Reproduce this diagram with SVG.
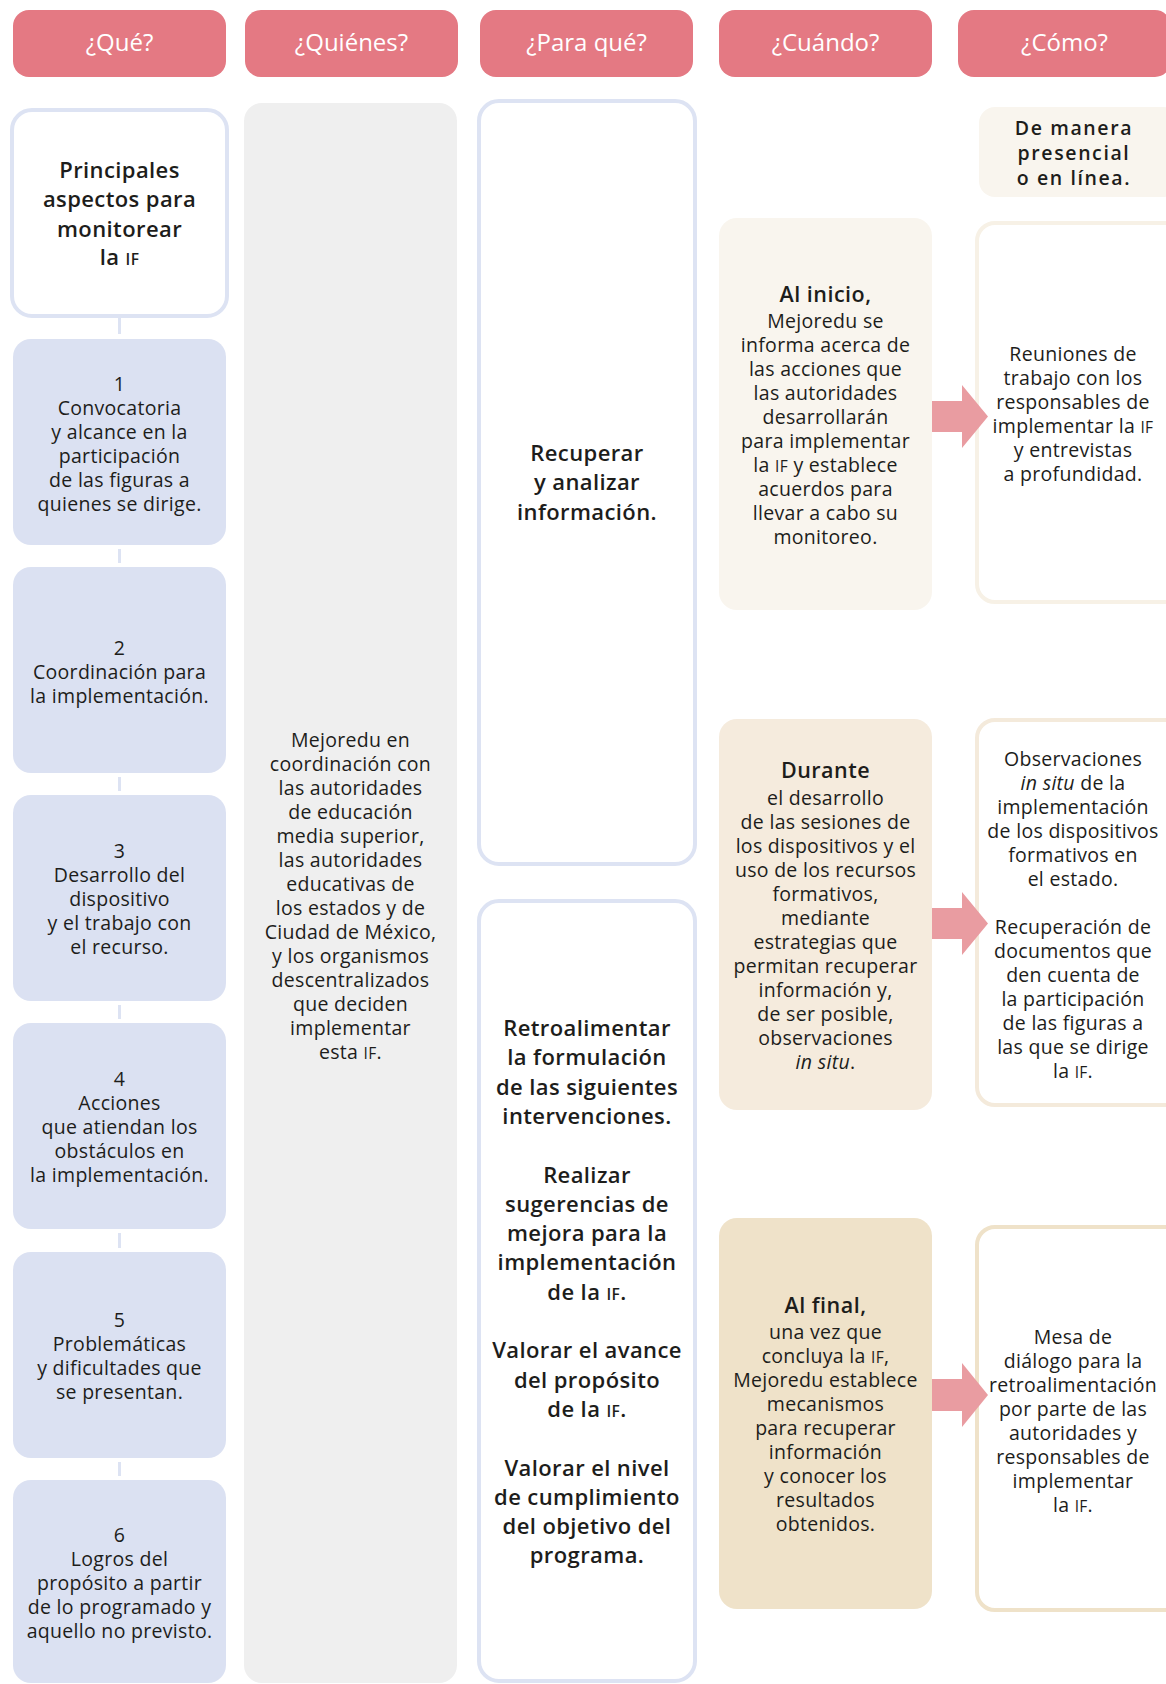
<svg xmlns="http://www.w3.org/2000/svg" width="1166" height="1684" viewBox="0 0 1166 1684">
<style>
.t{font-family:"Open Sans","Liberation Sans",sans-serif;font-size:19.5px;font-weight:500;fill:#1d1d1b;text-anchor:middle;letter-spacing:0.3px}
.b{font-weight:600;font-size:22px;letter-spacing:0.4px}
.b2{font-weight:600;font-size:21.5px;letter-spacing:0.5px}
.b3{font-weight:600;font-size:19.5px;letter-spacing:1.6px}
.h{font-family:"Open Sans","Liberation Sans",sans-serif;font-size:24px;font-weight:500;fill:#ffffff;text-anchor:middle}
.sc{font-size:15.5px}
.it{font-style:italic}
.hdr{fill:#e47983}
.blue{fill:#dbe1f2}
.ob{fill:#ffffff;stroke:#dde3f3;stroke-width:4}
.gray{fill:#efefef}
.c1{fill:#f9f5ee}
.c2{fill:#f5ebdd}
.c3{fill:#efe2c9}
.oc1{fill:#ffffff;stroke:#f7f1e6;stroke-width:4}
.oc2{fill:#ffffff;stroke:#f4eadb;stroke-width:4}
.oc3{fill:#ffffff;stroke:#efe2c9;stroke-width:4}
.ln{stroke:#dde3f3;stroke-width:3}
.ar{fill:#e99ca1}
</style>
<rect width="1166" height="1684" fill="#ffffff"/>

<g id="headers">
<g id="h-que"><rect class="hdr" x="13" y="10" width="213" height="67" rx="16"/><text class="h" x="119.5" y="51">¿Qué?</text></g>
<g id="h-quienes"><rect class="hdr" x="245" y="10" width="213" height="67" rx="16"/><text class="h" x="351.5" y="51">¿Quiénes?</text></g>
<g id="h-paraque"><rect class="hdr" x="480" y="10" width="213" height="67" rx="16"/><text class="h" x="586.5" y="51">¿Para qué?</text></g>
<g id="h-cuando"><rect class="hdr" x="719" y="10" width="213" height="67" rx="16"/><text class="h" x="825.5" y="51">¿Cuándo?</text></g>
<g id="h-como"><rect class="hdr" x="958" y="10" width="213" height="67" rx="16"/><text class="h" x="1064.5" y="51">¿Cómo?</text></g>
</g>

<g id="n-principales">
<rect class="ob" x="12" y="110" width="215" height="206" rx="20"/>
<text class="t b" x="119.5"><tspan x="119.5" y="178">Principales</tspan><tspan x="119.5" y="207">aspectos para</tspan><tspan x="119.5" y="237">monitorear</tspan><tspan x="119.5" y="265">la <tspan class="sc">IF</tspan></tspan></text>
</g>

<g id="n-1">
<rect class="blue" x="13" y="339" width="213" height="206" rx="18"/>
<text class="t"><tspan x="119.5" y="391">1</tspan><tspan x="119.5" y="415">Convocatoria</tspan><tspan x="119.5" y="439">y alcance en la</tspan><tspan x="119.5" y="463">participación</tspan><tspan x="119.5" y="487">de las figuras a</tspan><tspan x="119.5" y="511">quienes se dirige.</tspan></text>
</g>
<g id="n-2">
<rect class="blue" x="13" y="567" width="213" height="206" rx="18"/>
<text class="t"><tspan x="119.5" y="655">2</tspan><tspan x="119.5" y="679">Coordinación para</tspan><tspan x="119.5" y="703">la implementación.</tspan></text>
</g>
<g id="n-3">
<rect class="blue" x="13" y="795" width="213" height="206" rx="18"/>
<text class="t"><tspan x="119.5" y="858">3</tspan><tspan x="119.5" y="882">Desarrollo del</tspan><tspan x="119.5" y="906">dispositivo</tspan><tspan x="119.5" y="930">y el trabajo con</tspan><tspan x="119.5" y="954">el recurso.</tspan></text>
</g>
<g id="n-4">
<rect class="blue" x="13" y="1023" width="213" height="206" rx="18"/>
<text class="t"><tspan x="119.5" y="1086">4</tspan><tspan x="119.5" y="1110">Acciones</tspan><tspan x="119.5" y="1134">que atiendan los</tspan><tspan x="119.5" y="1158">obstáculos en</tspan><tspan x="119.5" y="1182">la implementación.</tspan></text>
</g>
<g id="n-5">
<rect class="blue" x="13" y="1252" width="213" height="206" rx="18"/>
<text class="t"><tspan x="119.5" y="1327">5</tspan><tspan x="119.5" y="1351">Problemáticas</tspan><tspan x="119.5" y="1375">y dificultades que</tspan><tspan x="119.5" y="1399">se presentan.</tspan></text>
</g>
<g id="n-6">
<rect class="blue" x="13" y="1480" width="213" height="203" rx="18"/>
<text class="t"><tspan x="119.5" y="1542">6</tspan><tspan x="119.5" y="1566">Logros del</tspan><tspan x="119.5" y="1590">propósito a partir</tspan><tspan x="119.5" y="1614">de lo programado y</tspan><tspan x="119.5" y="1638">aquello no previsto.</tspan></text>
</g>

<g id="n-quienes">
<rect class="gray" x="244" y="103" width="213" height="1580" rx="18"/>
<text class="t"><tspan x="350.5" y="747">Mejoredu en</tspan><tspan x="350.5" y="771">coordinación con</tspan><tspan x="350.5" y="795">las autoridades</tspan><tspan x="350.5" y="819">de educación</tspan><tspan x="350.5" y="843">media superior,</tspan><tspan x="350.5" y="867">las autoridades</tspan><tspan x="350.5" y="891">educativas de</tspan><tspan x="350.5" y="915">los estados y de</tspan><tspan x="350.5" y="939">Ciudad de México,</tspan><tspan x="350.5" y="963">y los organismos</tspan><tspan x="350.5" y="987">descentralizados</tspan><tspan x="350.5" y="1011">que deciden</tspan><tspan x="350.5" y="1035">implementar</tspan><tspan x="350.5" y="1059">esta <tspan class="sc">IF</tspan>.</tspan></text>
</g>

<g id="n-recuperar">
<rect class="ob" x="479" y="101" width="216" height="763" rx="20"/>
<text class="t b"><tspan x="587" y="461">Recuperar</tspan><tspan x="587" y="490">y analizar</tspan><tspan x="587" y="520">información.</tspan></text>
</g>

<g id="n-retroalimentar">
<rect class="ob" x="479" y="901" width="216" height="780" rx="20"/>
<text class="t b"><tspan x="587" y="1036">Retroalimentar</tspan><tspan x="587" y="1065">la formulación</tspan><tspan x="587" y="1095">de las siguientes</tspan><tspan x="587" y="1124">intervenciones.</tspan><tspan x="587" y="1183">Realizar</tspan><tspan x="587" y="1212">sugerencias de</tspan><tspan x="587" y="1241">mejora para la</tspan><tspan x="587" y="1270">implementación</tspan><tspan x="587" y="1300">de la <tspan class="sc">IF</tspan>.</tspan><tspan x="587" y="1358">Valorar el avance</tspan><tspan x="587" y="1388">del propósito</tspan><tspan x="587" y="1417">de la <tspan class="sc">IF</tspan>.</tspan><tspan x="587" y="1476">Valorar el nivel</tspan><tspan x="587" y="1505">de cumplimiento</tspan><tspan x="587" y="1534">del objetivo del</tspan><tspan x="587" y="1563">programa.</tspan></text>
</g>

<g id="n-inicio">
<rect class="c1" x="719" y="218" width="213" height="392" rx="18"/>
<text class="t"><tspan class="b2" x="825.5" y="302">Al inicio,</tspan><tspan x="825.5" y="328">Mejoredu se</tspan><tspan x="825.5" y="352">informa acerca de</tspan><tspan x="825.5" y="376">las acciones que</tspan><tspan x="825.5" y="400">las autoridades</tspan><tspan x="825.5" y="424">desarrollarán</tspan><tspan x="825.5" y="448">para implementar</tspan><tspan x="825.5" y="472">la <tspan class="sc">IF</tspan> y establece</tspan><tspan x="825.5" y="496">acuerdos para</tspan><tspan x="825.5" y="520">llevar a cabo su</tspan><tspan x="825.5" y="544">monitoreo.</tspan></text>
</g>

<g id="n-durante">
<rect class="c2" x="719" y="719" width="213" height="391" rx="18"/>
<text class="t"><tspan class="b2" x="825.5" y="778">Durante</tspan><tspan x="825.5" y="805">el desarrollo</tspan><tspan x="825.5" y="829">de las sesiones de</tspan><tspan x="825.5" y="853">los dispositivos y el</tspan><tspan x="825.5" y="877">uso de los recursos</tspan><tspan x="825.5" y="901">formativos,</tspan><tspan x="825.5" y="925">mediante</tspan><tspan x="825.5" y="949">estrategias que</tspan><tspan x="825.5" y="973">permitan recuperar</tspan><tspan x="825.5" y="997">información y,</tspan><tspan x="825.5" y="1021">de ser posible,</tspan><tspan x="825.5" y="1045">observaciones</tspan><tspan x="825.5" y="1069"><tspan class="it">in situ</tspan>.</tspan></text>
</g>

<g id="n-final">
<rect class="c3" x="719" y="1218" width="213" height="391" rx="18"/>
<text class="t"><tspan class="b2" x="825.5" y="1313">Al final,</tspan><tspan x="825.5" y="1339">una vez que</tspan><tspan x="825.5" y="1363">concluya la <tspan class="sc">IF</tspan>,</tspan><tspan x="825.5" y="1387">Mejoredu establece</tspan><tspan x="825.5" y="1411">mecanismos</tspan><tspan x="825.5" y="1435">para recuperar</tspan><tspan x="825.5" y="1459">información</tspan><tspan x="825.5" y="1483">y conocer los</tspan><tspan x="825.5" y="1507">resultados</tspan><tspan x="825.5" y="1531">obtenidos.</tspan></text>
</g>

<g id="n-manera">
<rect class="c1" x="979" y="107" width="200" height="90" rx="16"/>
<text class="t b3"><tspan x="1074" y="135">De manera</tspan><tspan x="1074" y="160">presencial</tspan><tspan x="1074" y="185">o en línea.</tspan></text>
</g>

<g id="n-reuniones">
<rect class="oc1" x="977" y="223" width="210" height="379" rx="18"/>
<text class="t"><tspan x="1073" y="361">Reuniones de</tspan><tspan x="1073" y="385">trabajo con los</tspan><tspan x="1073" y="409">responsables de</tspan><tspan x="1073" y="433">implementar la <tspan class="sc">IF</tspan></tspan><tspan x="1073" y="457">y entrevistas</tspan><tspan x="1073" y="481">a profundidad.</tspan></text>
</g>

<g id="n-observaciones">
<rect class="oc2" x="977" y="720" width="210" height="385" rx="18"/>
<text class="t"><tspan x="1073" y="766">Observaciones</tspan><tspan x="1073" y="790"><tspan class="it">in situ</tspan> de la</tspan><tspan x="1073" y="814">implementación</tspan><tspan x="1073" y="838">de los dispositivos</tspan><tspan x="1073" y="862">formativos en</tspan><tspan x="1073" y="886">el estado.</tspan><tspan x="1073" y="934">Recuperación de</tspan><tspan x="1073" y="958">documentos que</tspan><tspan x="1073" y="982">den cuenta de</tspan><tspan x="1073" y="1006">la participación</tspan><tspan x="1073" y="1030">de las figuras a</tspan><tspan x="1073" y="1054">las que se dirige</tspan><tspan x="1073" y="1078">la <tspan class="sc">IF</tspan>.</tspan></text>
</g>

<g id="n-mesa">
<rect class="oc3" x="977" y="1227" width="210" height="383" rx="18"/>
<text class="t"><tspan x="1073" y="1344">Mesa de</tspan><tspan x="1073" y="1368">diálogo para la</tspan><tspan x="1073" y="1392">retroalimentación</tspan><tspan x="1073" y="1416">por parte de las</tspan><tspan x="1073" y="1440">autoridades y</tspan><tspan x="1073" y="1464">responsables de</tspan><tspan x="1073" y="1488">implementar</tspan><tspan x="1073" y="1512">la <tspan class="sc">IF</tspan>.</tspan></text>
</g>

<g id="connectors">
<line class="ln" x1="119.5" y1="318" x2="119.5" y2="334"/>
<line class="ln" x1="119.5" y1="549" x2="119.5" y2="563"/>
<line class="ln" x1="119.5" y1="777" x2="119.5" y2="791"/>
<line class="ln" x1="119.5" y1="1005" x2="119.5" y2="1019"/>
<line class="ln" x1="119.5" y1="1233" x2="119.5" y2="1248"/>
<line class="ln" x1="119.5" y1="1462" x2="119.5" y2="1476"/>
<polygon class="ar" points="932,401 962,401 962,385 988,416.5 962,448 962,432 932,432"/>
<polygon class="ar" points="932,908 962,908 962,892 988,923.5 962,955 962,939 932,939"/>
<polygon class="ar" points="932,1379 962,1379 962,1363 988,1395 962,1427 962,1411 932,1411"/>
</g>
</svg>
